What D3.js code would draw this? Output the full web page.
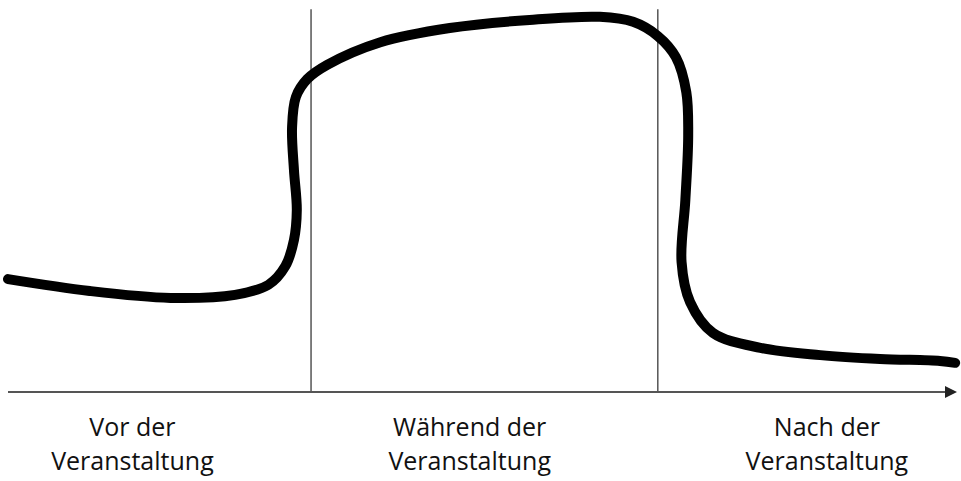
<!DOCTYPE html>
<html>
<head>
<meta charset="utf-8">
<script src="https://cdn.jsdelivr.net/npm/d3@7"></script>
<style>
  html, body { margin: 0; padding: 0; background: #fff; }
  svg { display: block; }
</style>
</head>
<body>
<svg id="chart" width="961" height="481"></svg>
<script>
// ---- Data ----
// Time axis 0..100, intensity 0..100 (schematic curve)
const curveTime = [0, 8.6, 17.1, 23.9, 27.4, 29.2, 30.1, 30.4, 30.1, 29.9, 30.3, 31.5, 33.6, 39.2, 46.5, 54.9, 62.3, 65.8, 68.4, 70.3, 71.4, 71.6, 71.3, 70.9, 71.8, 74.2, 79.2, 85.5, 91.8, 98.1, 99.7];
const curveValue = [29.4, 26.3, 24.5, 25.3, 27.9, 32.8, 39.6, 47.4, 57.8, 68.8, 76.8, 81.5, 85.2, 91.1, 94.8, 96.9, 97.7, 96.4, 92.7, 87.2, 78.1, 66.9, 50, 33.9, 23.4, 15.4, 11.5, 9.6, 8.6, 8.1, 7.6];
const phaseBoundaries = [31.9, 68.4];
const phaseLabels = [["Vor der", "Veranstaltung"], ["Während der", "Veranstaltung"], ["Nach der", "Veranstaltung"]];
const labelPositions = [13.1, 48.6, 86.2];

// ---- Scales ----
const svg = d3.select("#chart");
const x = d3.scaleLinear().domain([0, 100]).range([8, 958]);
const y = d3.scaleLinear().domain([0, 100]).range([392, 8]);

// Phase boundary lines
svg.selectAll("line.phase")
  .data(phaseBoundaries)
  .enter().append("line")
  .attr("class", "phase")
  .attr("x1", d => x(d)).attr("x2", d => x(d))
  .attr("y1", y(99.7)).attr("y2", y(0))
  .attr("stroke", "#555").attr("stroke-width", 1.5);

// Axis with arrow
const axisG = svg.append("g").attr("transform", `translate(0,${y(0)})`)
  .call(d3.axisBottom(x).tickValues([]).tickSizeOuter(0));
axisG.select(".domain").attr("stroke", "#555").attr("stroke-width", 2)
  .attr("d", `M${x(0)},0H${x(100) - 10}`);
svg.append("path")
  .attr("d", `M${x(100) - 1},${y(0)} L${x(100) - 13},${y(0) - 6} L${x(100) - 13},${y(0) + 6} Z`)
  .attr("fill", "#222");

// Curve
const pts = curveTime.map((t, i) => [t, curveValue[i]]);
const line = d3.line()
  .x(d => x(d[0])).y(d => y(d[1]))
  .curve(d3.curveCatmullRom.alpha(0.5));
svg.append("path")
  .datum(pts)
  .attr("d", line)
  .attr("fill", "none")
  .attr("stroke", "#000")
  .attr("stroke-width", 10)
  .attr("stroke-linecap", "round")
  .attr("stroke-linejoin", "round");

// Labels
const lbl = svg.selectAll("text.lbl")
  .data(phaseLabels)
  .enter().append("text")
  .attr("class", "lbl")
  .attr("text-anchor", "middle")
  .attr("font-family", "'Open Sans', sans-serif")
  .attr("font-size", 25)
  .attr("fill", "#111");
lbl.each(function(d, i) {
  const t = d3.select(this);
  d.forEach((s, j) => {
    t.append("tspan").attr("x", x(labelPositions[i])).attr("y", 436 + j * 33.6).text(s);
  });
});
</script>
</body>
</html>
